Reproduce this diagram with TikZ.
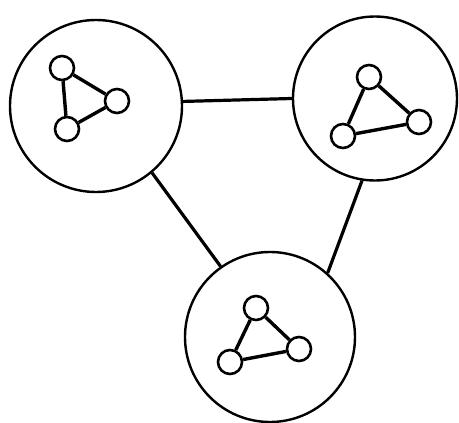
\documentclass[tikz,border=0pt]{standalone}
\begin{document}
\begin{tikzpicture}[x=1pt,y=-1pt,
  bigc/.style={circle,draw,line width=2.4pt,inner sep=0pt},
  smallc/.style={circle,draw,line width=2.6pt,minimum size=24pt,inner sep=0pt,fill=white},
  link/.style={line width=3.2pt},
  edge/.style={line width=3.4pt}]
\useasboundingbox (0,0) rectangle (459,423);
% big circles
\node[bigc,minimum size=172pt] (c1) at (96,106) {};
\node[bigc,minimum size=164pt] (c2) at (375,98.5) {};
\node[bigc,minimum size=170pt] (c3) at (270,337) {};
% connectors
\draw[link] (c1.3) -- (c2.180);
\draw[link] (c1.-50) -- (c3.125);
\draw[link] (c2.-99) -- (c3.48);
% cluster 1
\node[smallc] (a1) at (62,68) {};
\node[smallc] (a2) at (117,101) {};
\node[smallc] (a3) at (67,129) {};
\draw[edge] (a1) -- (a2) (a2) -- (a3) (a3) -- (a1);
% cluster 2
\node[smallc] (b1) at (369,77) {};
\node[smallc] (b2) at (419,122) {};
\node[smallc] (b3) at (343,136) {};
\draw[edge] (b1) -- (b2) (b2) -- (b3) (b3) -- (b1);
% cluster 3
\node[smallc] (d1) at (256,308) {};
\node[smallc] (d2) at (299,349) {};
\node[smallc] (d3) at (230,362) {};
\draw[edge] (d1) -- (d2) (d2) -- (d3) (d3) -- (d1);
\end{tikzpicture}
\end{document}
